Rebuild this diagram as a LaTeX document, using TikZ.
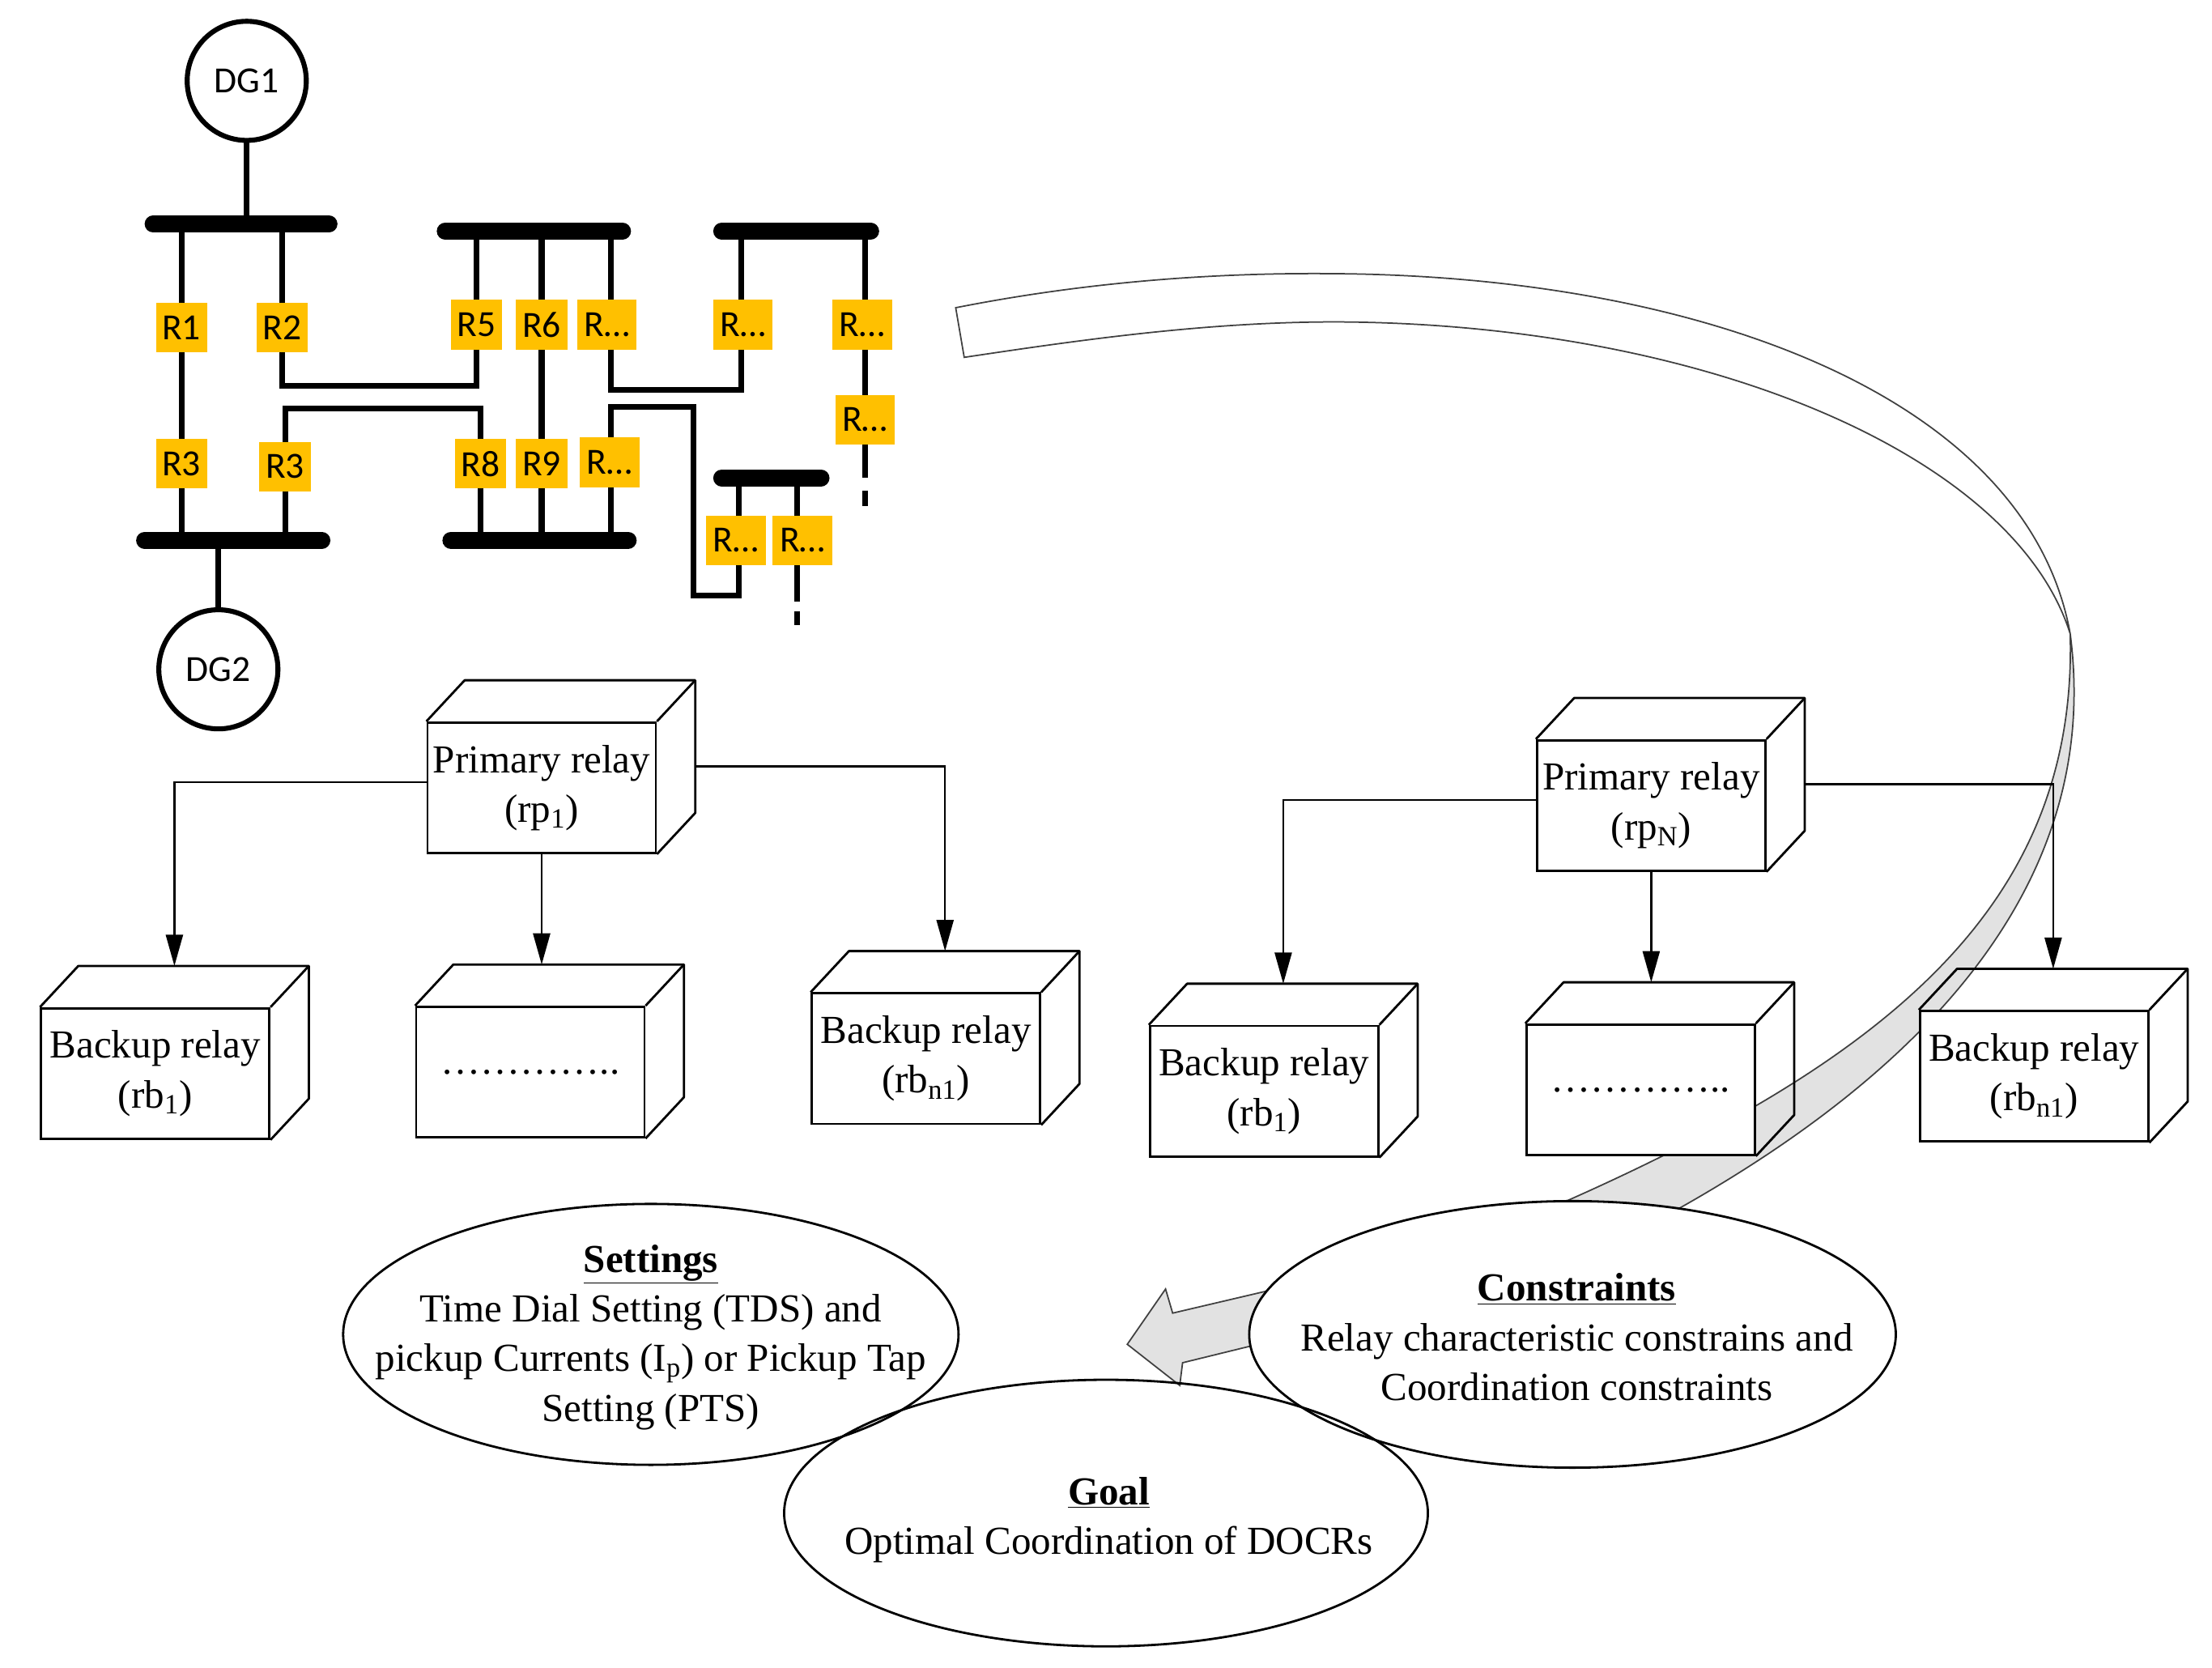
\documentclass[tikz,border=0pt]{standalone}
\usepackage{fontspec}
\setmainfont{Liberation Serif}
\newfontfamily\calibrifont{Carlito}
\usetikzlibrary{arrows.meta,calc,shapes.geometric}
\definecolor{relayc}{HTML}{FFC000}
\definecolor{bandgray}{HTML}{E2E2E2}
\newcommand{\relaycube}[4]{%
  \node[face] (#1) at (#2,#3) {#4};
  \draw[boxline] (#1.north west) -- ++(27,-29) -- ($(#1.north east)+(27,-29)$) -- ($(#1.south east)+(27,-29)$) -- (#1.south east);
  \draw[boxline] (#1.north east) -- ++(27,-29);
  \coordinate (#1-top) at ($(#1.north)+(13.5,-29)$);
}
\begin{document}
\begin{tikzpicture}[x=1pt,y=-1pt,
  bus/.style={line width=12pt,line cap=round},
  wire/.style={line width=4pt},
  relay/.style={fill=relayc,inner sep=0pt,minimum width=36pt,minimum height=35pt,font=\calibrifont\fontsize{26}{26}\selectfont},
  relaywide/.style={relay,minimum width=42pt},
  dg/.style={circle,draw,line width=3.5pt,minimum size=84pt,inner sep=0pt,font=\calibrifont\fontsize{26}{26}\selectfont},
  boxline/.style={line width=1.6pt,line join=round},
  face/.style={draw,fill=white,line width=1.6pt,minimum width=161pt,minimum height=92pt,inner sep=0pt,align=center,font=\fontsize{28}{35}\selectfont},
  conn/.style={line width=1.4pt,-{Triangle[length=22pt,width=12pt]}},
  ell/.style={ellipse,draw,line width=1.6pt,inner sep=0pt},
  txt/.style={align=center,inner sep=0pt,font=\fontsize{28}{35}\selectfont},
  bandline/.style={line width=1pt,draw=black!75}
]
\useasboundingbox (0,0) rectangle (1560,1176);

% ---------- curved ribbon arrow ----------
\coordinate (twist) at (1460,447);
\draw[bandline,fill=white]
  (674,217) .. controls (760,200) and (850,192) .. (942,193)
  .. controls (1200,195) and (1430,280) .. (twist)
  .. controls (1420,320) and (1200,228) .. (942,227)
  .. controls (850,227) and (760,240) .. (680,252) -- cycle;
\draw[bandline,fill=bandgray]
  (twist) .. controls (1465,640) and (1330,750) .. (1084,856)
  -- (1170,860) .. controls (1390,740) and (1480,600) .. (twist) -- cycle;

% ---------- network ----------
\node[dg] (dg1) at (174,57) {DG1};
\node[dg] (dg2) at (154,472) {DG2};
\coordinate (b1a) at (108,158); \coordinate (b1b) at (232,158);
\coordinate (b2a) at (102,381); \coordinate (b2b) at (227,381);
\coordinate (b3a) at (314,163); \coordinate (b3b) at (439,163);
\coordinate (b4a) at (318,381); \coordinate (b4b) at (443,381);
\coordinate (b5a) at (509,163); \coordinate (b5b) at (614,163);
\coordinate (b6a) at (509,337); \coordinate (b6b) at (579,337);

\draw[wire] (dg1.south) -- (dg1.south |- b1a);
\draw[wire] (dg2.north) -- (dg2.north |- b2a);
\draw[wire] (128,158) -- (128,381);
\draw[wire] (199,158) -- (199,272) -- (336,272) -- (336,163);
\draw[wire] (201,381) -- (201,288) -- (339,288) -- (339,381);
\draw[wire] (382,163) -- (382,381);
\draw[wire] (431,163) -- (431,275) -- (523,275) -- (523,163);
\draw[wire] (431,381) -- (431,287) -- (489,287) -- (489,420) -- (521,420) -- (521,337);
\draw[wire] (610,163) -- (610,337);
\draw[wire] (610,346) -- (610,357);
\draw[wire] (562,337) -- (562,424);
\draw[wire] (562,431) -- (562,441);

\draw[bus] (b1a) -- (b1b);
\draw[bus] (b2a) -- (b2b);
\draw[bus] (b3a) -- (b3b);
\draw[bus] (b4a) -- (b4b);
\draw[bus] (b5a) -- (b5b);
\draw[bus] (b6a) -- (b6b);

\node[relay] (r1) at (128,231) {R1};
\node[relay] (r2) at (199,231) {R2};
\node[relay] (r3) at (128,327) {R3};
\node[relay] (r3b) at (201,329) {R3};
\node[relay] (r5) at (336,229) {R5};
\node[relay] (r6) at (382,229) {R6};
\node[relaywide] (r7) at (428,229) {R…};
\node[relay] (r8) at (339,327) {R8};
\node[relay] (r9) at (382,327) {R9};
\node[relaywide] (r10) at (430,326) {R…};
\node[relaywide] (r11) at (524,229) {R…};
\node[relaywide] (r12) at (608,229) {R…};
\node[relaywide] (r13) at (610,296) {R…};
\node[relaywide] (r14) at (519,381) {R…};
\node[relaywide] (r15) at (566,381) {R…};

% ---------- relay cubes ----------
\relaycube{p1}{382}{555.5}{Primary relay\\(rp\textsubscript{1})}
\relaycube{b1L}{109.5}{757}{Backup relay\\(rb\textsubscript{1})}
\relaycube{mL}{374}{756}{…………..}
\relaycube{bnL}{653}{746.5}{Backup relay\\(rb\textsubscript{n1})}
\relaycube{pN}{1164.5}{568}{Primary relay\\(rp\textsubscript{N})}
\relaycube{b1R}{891.5}{769.5}{Backup relay\\(rb\textsubscript{1})}
\relaycube{mR}{1157}{768.5}{…………..}
\relaycube{bnR}{1434.5}{759}{Backup relay\\(rb\textsubscript{n1})}

\draw[conn] ([yshift=4pt]p1.west) -| (b1L-top);
\draw[conn] (p1.south) -- (p1.south |- mL-top);
\draw[conn] ($(p1.east)+(27,-15)$) -| (bnL-top);
\draw[conn] ([yshift=4pt]pN.west) -| (b1R-top);
\draw[conn] (pN.south) -- (pN.south |- mR-top);
\draw[conn] ($(pN.east)+(27,-15)$) -| (bnR-top);

% ---------- block arrow ----------
\draw[bandline,fill=bandgray,line join=miter] (905,907.7) -- (827,926) -- (822,909) -- (795,948) -- (832,977) -- (834,961) -- (905,943.6) -- cycle;

% ---------- ellipses ----------
\node[ell,fill=white,minimum width=456pt,minimum height=188pt] (cons) at (1109,941) {};
\node[ell,minimum width=434pt,minimum height=184pt] (sett) at (459,941) {};
\node[ell,minimum width=454pt,minimum height=188pt] (goal) at (780,1067) {};

\node[txt] (setttxt) at (459,943) {\underline{\textbf{Settings}}\\Time Dial Setting (TDS) and\\pickup Currents (I\textsubscript{p}) or Pickup Tap\\Setting (PTS)};
\node[txt] (constxt) at (1112,943) {\underline{\textbf{Constraints}}\\Relay characteristic constrains and\\Coordination constraints};
\node[txt] (goaltxt) at (782,1072) {\underline{\textbf{Goal}}\\Optimal Coordination of DOCRs};
\end{tikzpicture}
\end{document}
